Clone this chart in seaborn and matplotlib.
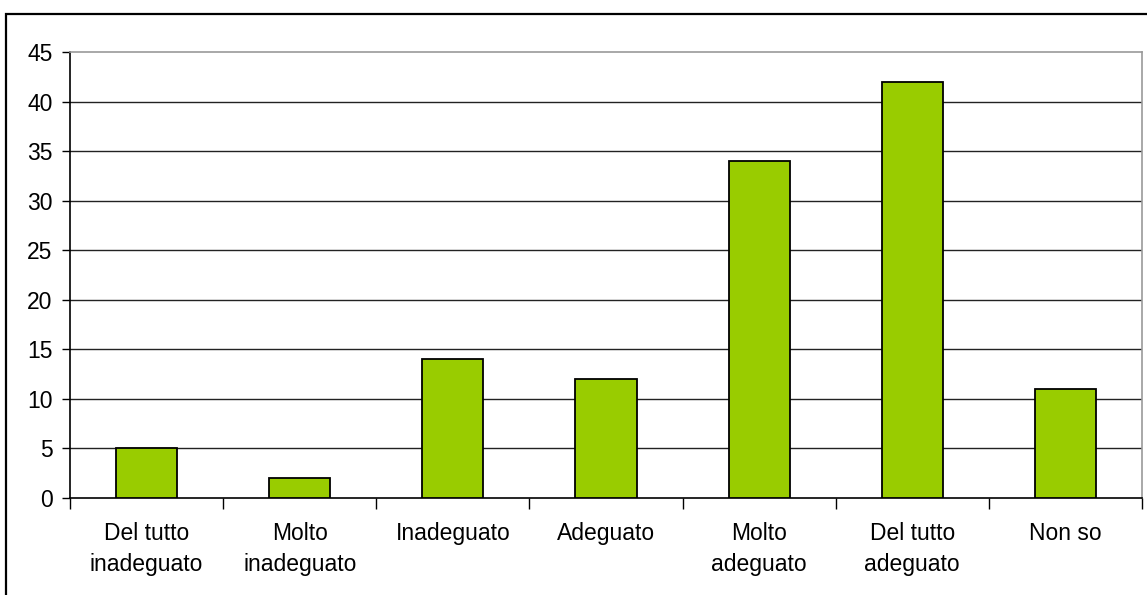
import numpy as np
import pandas as pd
import matplotlib
matplotlib.use("Agg")
import matplotlib.pyplot as plt
import seaborn as sns
from matplotlib.patches import Rectangle

# Data
categories = ["Del tutto\ninadeguato", "Molto\ninadeguato", "Inadeguato", "Adeguato",
              "Molto\nadeguato", "Del tutto\nadeguato", "Non so"]
values = [5, 2, 14, 12, 34, 42, 11]
y_ticks = [0, 5, 10, 15, 20, 25, 30, 35, 40, 45]

df = pd.DataFrame({"categoria": categories, "valore": values})

sns.set_style("white")
plt.rcParams["font.family"] = ["Liberation Sans", "DejaVu Sans"]
plt.rcParams["text.color"] = "black"
plt.rcParams["xtick.color"] = "black"
plt.rcParams["ytick.color"] = "black"

W, H = 1147, 595
fig = plt.figure(figsize=(W / 100, H / 100), dpi=100)
ax = fig.add_axes([70 / W, 1 - 498 / H, (1142 - 70) / W, (498 - 52) / H])

# Outer chart frame (extends past right and bottom edges)
fig.patches.append(Rectangle((6 / W, -0.1), 1.2, 1.1 - 14 / H,
                             transform=fig.transFigure, fill=False,
                             edgecolor="black", linewidth=1.6))

for y in y_ticks[1:-1]:
    ax.axhline(y, color="#222222", linewidth=1.0, zorder=0)

sns.barplot(data=df, x="categoria", y="valore", color="#99CC00", width=0.4,
            edgecolor="black", linewidth=1.3, saturation=1, ax=ax, zorder=3)

ax.set_xlim(-0.5, len(categories) - 0.5)
ax.set_ylim(0, 45)
ax.set_yticks(y_ticks)
ax.set_xlabel("")
ax.set_ylabel("")

ax.tick_params(axis="y", direction="out", length=5.5, width=1,
               labelsize=16.5, pad=7, left=True)
ax.tick_params(axis="x", which="major", length=0, labelsize=16.5, pad=17.5)
ax.set_xticks(np.arange(-0.5, len(categories)), minor=True)
ax.tick_params(axis="x", which="minor", direction="out", length=8, width=1,
               bottom=True)
for lbl in ax.get_xticklabels():
    lbl.set_linespacing(1.4)

for side in ["left", "bottom"]:
    ax.spines[side].set_color("black")
    ax.spines[side].set_linewidth(1.2)
for side in ["top", "right"]:
    ax.spines[side].set_visible(True)
    ax.spines[side].set_color("#999999")
    ax.spines[side].set_linewidth(1.2)

fig.savefig("out.png", dpi=100, facecolor="white")
